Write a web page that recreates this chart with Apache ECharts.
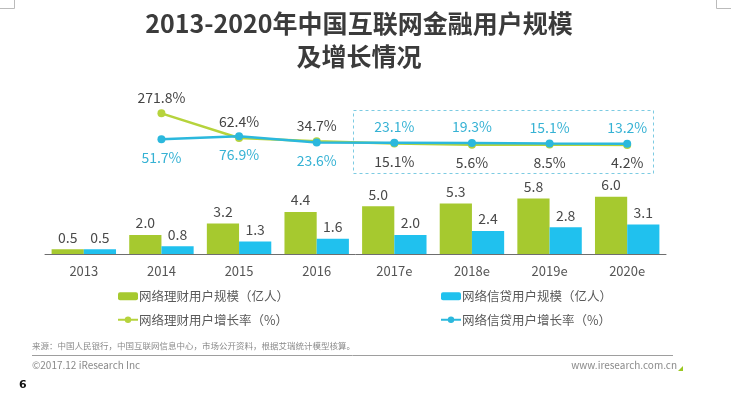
<!DOCTYPE html>
<html>
<head>
<meta charset="utf-8">
<script src="https://cdn.jsdelivr.net/npm/echarts@6/dist/echarts.min.js"></script>
<style>
  html, body { margin: 0; padding: 0; background: #fff; }
  #chart { width: 731px; height: 398px; }
</style>
</head>
<body>
<div id="chart"></div>
<script>
const categories = ['2013', '2014', '2015', '2016', '2017e', '2018e', '2019e', '2020e'];
const wealthUsers = [0.5, 2.0, 3.2, 4.4, 5.0, 5.3, 5.8, 6.0];
const creditUsers = [0.5, 0.8, 1.3, 1.6, 2.0, 2.4, 2.8, 3.1];
const wealthGrowth = [null, 271.8, 62.4, 34.7, 15.1, 5.6, 8.5, 4.2];
const creditGrowth = [null, 51.7, 76.9, 23.6, 23.1, 19.3, 15.1, 13.2];

const font = '"Noto Sans CJK SC", "Noto Sans", sans-serif';
const green = '#a6c92f';
const blue = '#20c1ee';

// growth labels swap sides from 2017e on
const withPos = (arr, early, late) => arr.map((v, i) =>
  v === null ? null : { value: v, label: { position: i < 4 ? early : late, distance: i < 4 === (early === 'top') ? 5 : 7 } });

const chart = echarts.init(document.getElementById('chart'));
chart.setOption({
  backgroundColor: '#fff',
  textStyle: { fontFamily: font },
  title: {
    text: '2013-2020年中国互联网金融用户规模\n及增长情况',
    left: 354,
    textAlign: 'center',
    top: 2,
    textStyle: { fontFamily: font, fontSize: 25, fontWeight: 'bold', color: '#3b3b3b', lineHeight: 33 }
  },
  legend: [
    {
      data: ['网络理财用户规模（亿人）', '网络理财用户增长率（%）'],
      orient: 'vertical', left: 112, top: 285, itemGap: 11,
      itemWidth: 20, itemHeight: 8,
      textStyle: { fontSize: 12.5, color: '#5a5a5a', padding: [0, 0, 0, -4] }
    },
    {
      data: ['网络信贷用户规模（亿人）', '网络信贷用户增长率（%）'],
      orient: 'vertical', left: 435, top: 285, itemGap: 11,
      itemWidth: 20, itemHeight: 8,
      textStyle: { fontSize: 12.5, color: '#5a5a5a', padding: [0, 0, 0, -4] }
    }
  ],
  grid: [
    { left: 45, right: 65, top: 158.5, height: 95.5 },
    { left: 45, right: 65, top: 110, height: 35.4 }
  ],
  xAxis: [
    {
      type: 'category', data: categories, gridIndex: 0,
      axisLine: { lineStyle: { color: '#6e6e6e', width: 1 } },
      axisTick: { show: false },
      axisLabel: { fontSize: 13, color: '#555', margin: 11 }
    },
    {
      type: 'category', data: categories, gridIndex: 1, show: false
    }
  ],
  yAxis: [
    { type: 'value', gridIndex: 0, min: 0, max: 10, show: false },
    { type: 'value', gridIndex: 1, min: 0, max: 300, show: false }
  ],
  series: [
    {
      name: '网络理财用户规模（亿人）', type: 'bar', data: wealthUsers,
      xAxisIndex: 0, yAxisIndex: 0,
      barGap: '0%', barCategoryGap: '17%',
      itemStyle: { color: green },
      label: { show: true, position: 'top', distance: 5, fontSize: 14, color: '#4a4a4a',
        formatter: p => p.value.toFixed(1) }
    },
    {
      name: '网络信贷用户规模（亿人）', type: 'bar', data: creditUsers,
      xAxisIndex: 0, yAxisIndex: 0,
      itemStyle: { color: blue },
      label: { show: true, position: 'top', distance: 5, fontSize: 14, color: '#4a4a4a',
        formatter: p => p.value.toFixed(1) }
    },
    {
      name: '网络理财用户增长率（%）', type: 'line', data: withPos(wealthGrowth, 'top', 'bottom'),
      xAxisIndex: 1, yAxisIndex: 1,
      symbol: 'circle', symbolSize: 8,
      lineStyle: { color: '#b6d33c', width: 2.5 },
      itemStyle: { color: '#b6d33c' },
      label: { show: true, fontSize: 14, color: '#444', formatter: '{c}%' },
      z: 3
    },
    {
      name: '网络信贷用户增长率（%）', type: 'line', data: withPos(creditGrowth, 'bottom', 'top'),
      xAxisIndex: 1, yAxisIndex: 1,
      symbol: 'circle', symbolSize: 8,
      lineStyle: { color: '#2bb8dd', width: 2.5 },
      itemStyle: { color: '#2bb8dd' },
      label: { show: true, fontSize: 14, color: '#36b2d4', formatter: '{c}%' },
      z: 4
    }
  ],
  graphic: [
    { type: 'rect', shape: { x: 353.5, y: 110.5, width: 300, height: 63 },
      style: { fill: 'none', stroke: '#7ccbe2', lineWidth: 1, lineDash: [3, 3] } },
    { type: 'text', left: 32, top: 342,
      style: { text: '来源：中国人民银行，中国互联网信息中心，市场公开资料，根据艾瑞统计模型核算。', fontSize: 8.5, fill: '#8a8a8a', fontFamily: font } },
    { type: 'line', shape: { x1: 32, y1: 355.5, x2: 673, y2: 355.5 }, style: { stroke: '#9e9e9e', lineWidth: 1 } },
    { type: 'text', left: 32, top: 360,
      style: { text: '©2017.12 iResearch Inc', fontSize: 10, fill: '#8a8a8a', fontFamily: font } },
    { type: 'text', right: 54, top: 360,
      style: { text: 'www.iresearch.com.cn', fontSize: 10, fill: '#8a8a8a', fontFamily: font } },
    { type: 'polygon', shape: { points: [[683, 366], [683, 371], [678, 371]] }, style: { fill: '#9ac820' } },
    { type: 'text', left: 19, top: 380,
      style: { text: '6', fontSize: 11, fontWeight: 'bold', fill: '#111', fontFamily: 'DejaVu Sans' } },
    { type: 'polyline', shape: { points: [[0, 8.5], [14.5, 8.5], [14.5, 0]] }, style: { stroke: '#bbb', lineWidth: 1, fill: 'none' } },
    { type: 'polyline', shape: { points: [[731, 8.5], [716.5, 8.5], [716.5, 0]] }, style: { stroke: '#bbb', lineWidth: 1, fill: 'none' } }
  ]
});
</script>
</body>
</html>
